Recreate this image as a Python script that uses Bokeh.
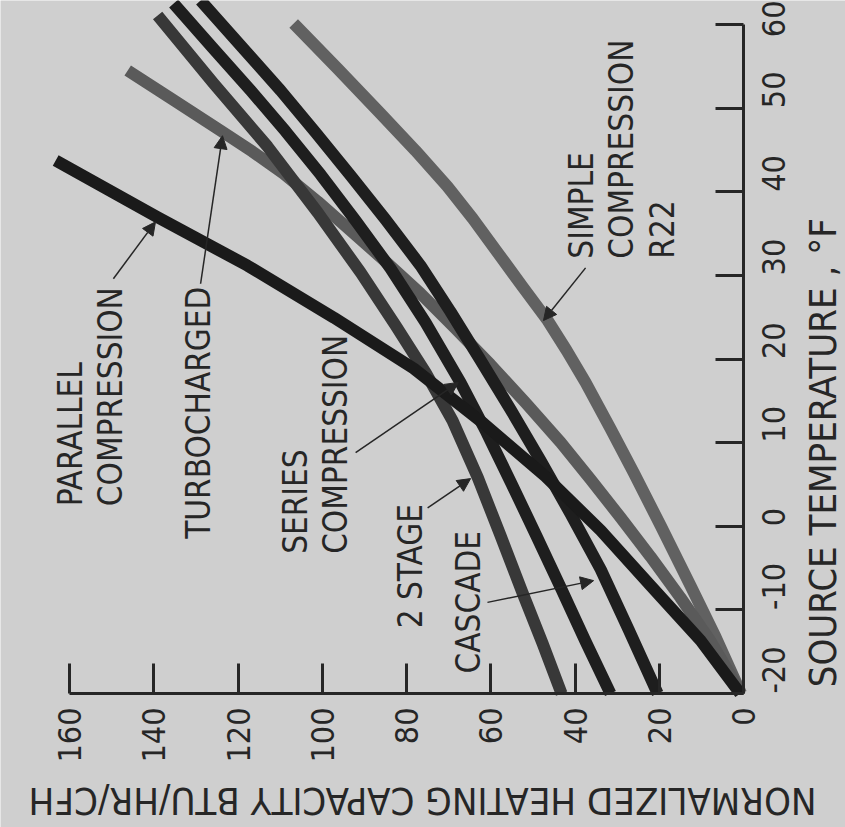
import math
from bokeh.plotting import figure
from bokeh.models import Range1d, FixedTicker, Label, Arrow, NormalHead, LinearAxis
from bokeh.embed import file_html
from bokeh.resources import INLINE

FONT = "DejaVu Sans Condensed, Roboto"

# ---- data ----
capacity_ticks = [0, 20, 40, 60, 80, 100, 120, 140, 160]
temperature_ticks = [-20, -10, 0, 10, 20, 30, 40, 50, 60]
temperature_tick_labels = {-20: "-20", -10: "-10"}

parallel_temp = [43.74, 36.95, 31.18, 24.96, 18.86, 12.29, 5.95, -0.51, -7.09, -13.66, -20]
parallel_cap = [163.3, 139.1, 117.8, 97.3, 78.3, 61.7, 47.0, 33.9, 22.1, 10.2, 0.8]

turbo_temp = [54.50, 50.79, 47.32, 44.81, 42.18, 38.83, 35.37, 31.66, 27.83, 23.65,
              19.34, 14.80, 10.01, 5.59, 1.05, -3.62, -8.52, -13.78, -19.40, -20]
turbo_cap = [146.2, 134.8, 124.2, 116.6, 109.2, 101.1, 93.3, 85.0, 76.7, 68.4,
             60.1, 51.8, 43.4, 36.3, 29.2, 22.1, 15.0, 7.8, 1.2, 1.0]

simple_temp = [60.12, 54.74, 49.36, 44.93, 40.63, 36.80, 32.74, 28.67, 24.60, 21.02,
               17.19, 11.69, 6.43, 0.09, -7.09, -13.30, -20]
simple_cap = [106.8, 96.4, 86.2, 77.9, 70.3, 64.3, 58.4, 52.5, 46.5, 42.0,
              37.5, 31.6, 26.1, 19.7, 12.6, 6.6, 0.6]

two_stage_temp = [61.08, 52.94, 45.41, 37.52, 30.34, 24.01, 18.39, 12.65, 5.83, -1.11,
                  -7.92, -14.02, -20]
two_stage_cap = [139.1, 125.8, 113.0, 101.1, 90.9, 82.6, 75.5, 69.1, 63.1, 57.7,
                 52.5, 47.7, 43.2]

series_temp = [62.51, 57.25, 52.11, 47.21, 42.06, 36.56, 30.82, 24.37, 17.19, 11.21,
               5.11, -1.23, -7.56, -13.78, -20]
series_cap = [135.3, 126.1, 117.0, 108.7, 100.4, 92.1, 83.8, 75.5, 67.2, 61.0,
              55.1, 49.1, 43.2, 37.5, 31.6]

cascade_temp = [62.87, 57.49, 52.11, 47.09, 41.94, 36.68, 31.18, 25.68, 19.82, 13.96,
                7.86, 1.52, -5.17, -12.35, -20]
cascade_cap = [128.9, 119.4, 109.9, 101.6, 93.3, 85.0, 76.7, 69.6, 62.4, 55.3,
               48.2, 41.1, 33.9, 27.3, 20.4]

x_title = "NORMALIZED HEATING CAPACITY BTU/HR/CFH"
y_title = "SOURCE TEMPERATURE , °F"

BG = "#cfcfcf"
INK = "#262626"

# the frame covers the whole page; axes are drawn at fixed data locations
p = figure(frame_width=845, frame_height=827,
           x_range=Range1d(176.4, -24.2), y_range=Range1d(-36.02, 62.87),
           output_backend="svg", toolbar_location=None,
           x_axis_location=None, y_axis_location=None,
           min_border_left=0, min_border_top=0,
           min_border_right=0, min_border_bottom=0)
p.background_fill_color = BG
p.border_fill_color = BG
p.outline_line_color = None
p.xgrid.visible = False
p.ygrid.visible = False


def style_axis(ax, tick_in, standoff):
    ax.axis_line_width = 3
    ax.axis_line_color = INK
    ax.major_tick_line_width = 3
    ax.major_tick_line_color = INK
    ax.major_tick_in = tick_in
    ax.major_tick_out = 0
    ax.minor_tick_line_color = None
    ax.major_label_text_font = FONT
    ax.major_label_text_font_size = "32px"
    ax.major_label_text_color = INK
    ax.major_label_orientation = math.pi / 2
    ax.major_label_standoff = standoff


xaxis = LinearAxis(ticker=FixedTicker(ticks=capacity_ticks), bounds=(0, 160),
                   fixed_location=-20)
style_axis(xaxis, 30, 14)
p.add_layout(xaxis, "below")

yaxis = LinearAxis(ticker=FixedTicker(ticks=temperature_ticks), bounds=(-20, 60),
                   fixed_location=0)
style_axis(yaxis, 28, 30)
yaxis.major_label_overrides = temperature_tick_labels
p.add_layout(yaxis, "right")

curves = [
    (simple_cap, simple_temp, "#616161"),
    (turbo_cap, turbo_temp, "#5a5a5a"),
    (two_stage_cap, two_stage_temp, "#383838"),
    (series_cap, series_temp, "#1e1e1e"),
    (cascade_cap, cascade_temp, "#1e1e1e"),
    (parallel_cap, parallel_temp, "#1a1a1a"),
]
for cx, cy, col in curves:
    p.line(cx, cy, line_width=12, line_color=col, line_cap="butt", line_join="round")

# curve labels
labels = [
    ("PARALLEL\nCOMPRESSION", 164.5, 2.4),
    ("TURBOCHARGED", 134.1, -1.5),
    ("SERIES\nCOMPRESSION", 111.1, -3.3),
    ("2 STAGE", 83.8, -12.2),
    ("CASCADE", 70.0, -17.6),
    ("SIMPLE\nCOMPRESSION\nR22", 43.2, 32.0),
]
for txt, lx, ly in labels:
    p.add_layout(Label(x=lx, y=ly, text=txt, angle=math.pi / 2,
                       text_font=FONT, text_font_size="33px", text_color=INK,
                       text_align="left", text_baseline="top", text_line_height=1.04))

arrows = [
    (149.6, 29.6, 139.6, 36.4),
    (128.9, 29.0, 123.7, 46.7),
    (92.1, 8.8, 67.7, 17.2),
    (75.0, 2.2, 64.8, 5.7),
    (60.8, -9.1, 35.6, -6.5),
    (37.5, 30.9, 47.5, 24.6),
]
for xs, ys, xe, ye in arrows:
    p.add_layout(Arrow(x_start=xs, y_start=ys, x_end=xe, y_end=ye,
                       line_width=1.5, line_color=INK,
                       end=NormalHead(size=13, fill_color=INK, line_color=INK)))

# axis titles
p.add_layout(Label(x=76.2, y=-32.8, text=x_title, angle=math.pi,
                   text_font=FONT, text_font_size="38px", text_color=INK,
                   text_align="center", text_baseline="middle"))
p.add_layout(Label(x=-18.75, y=8.8, text=y_title, angle=math.pi / 2,
                   text_font=FONT, text_font_size="38px", text_color=INK,
                   text_align="center", text_baseline="middle"))

open("out.html", "w").write(file_html(p, INLINE))
